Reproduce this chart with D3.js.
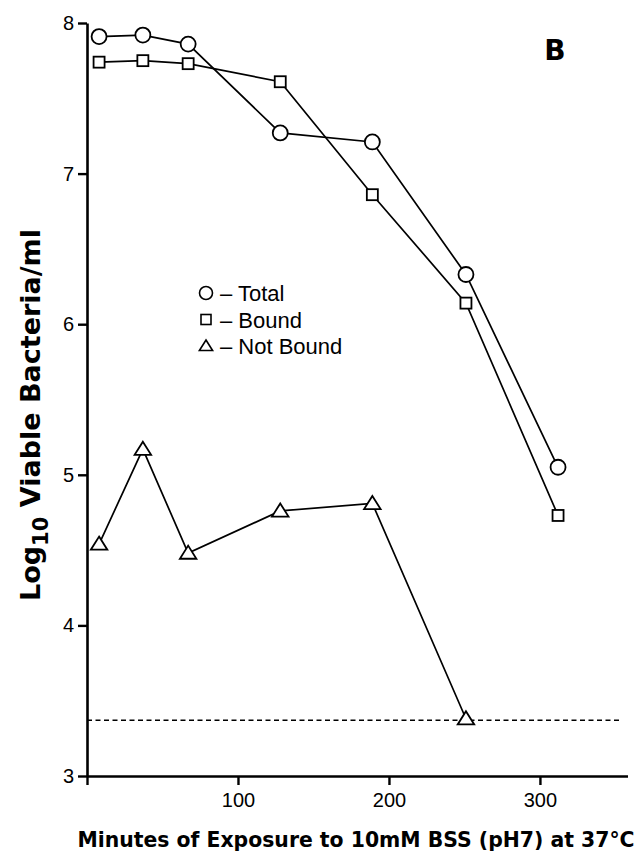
<!DOCTYPE html>
<html>
<head>
<meta charset="utf-8">
<script src="https://cdn.jsdelivr.net/npm/d3@7"></script>
<style>
  html, body { margin: 0; padding: 0; background: #fff; }
  svg { display: block; }
</style>
</head>
<body>
<svg id="chart" width="642" height="851"></svg>
<script>
// Sampling times (minutes of exposure)
const minutes = [8, 37, 67, 128, 189, 251, 312];
// Log10 viable bacteria per ml
const totalCounts = [7.91, 7.92, 7.86, 7.27, 7.21, 6.33, 5.05];
const boundCounts = [7.74, 7.75, 7.73, 7.61, 6.86, 6.14, 4.73];
const notBoundMinutes = [8, 37, 67, 128, 189, 251];
const notBoundCounts = [4.54, 5.17, 4.48, 4.76, 4.81, 3.38];
// Detection limit
const detectionLimit = 3.37;
const detectionSpan = [0, 353];
// Axis ticks
const xTicks = [0, 100, 200, 300];
const yTicks = [3, 4, 5, 6, 7, 8];
const legendLabels = ["Total", "Bound", "Not Bound"];

const svg = d3.select("#chart");
const x = d3.scaleLinear().domain([0, 358]).range([87, 627.5]);
const y = d3.scaleLinear().domain([3, 8]).range([776, 23]);

// Axes
const yAxis = d3.axisLeft(y).tickValues(yTicks).tickSize(9).tickSizeOuter(0).tickPadding(4)
  .tickFormat(d3.format("d"));
const xAxis = d3.axisBottom(x).tickValues(xTicks).tickSize(9).tickSizeOuter(0).tickPadding(8)
  .tickFormat(d => d === 0 ? "" : d);

const gy = svg.append("g").attr("transform", `translate(${x(0)},0)`).call(yAxis);
const gx = svg.append("g").attr("transform", `translate(0,${y(3)})`).call(xAxis);
[gx, gy].forEach(g => {
  g.select(".domain").attr("stroke", "#000").attr("stroke-width", 2.6);
  g.selectAll(".tick line").attr("stroke", "#000").attr("stroke-width", 2.4);
  g.selectAll(".tick text").attr("fill", "#000")
    .style("font-family", "'Liberation Sans', Arial, sans-serif").style("font-size", "20px");
});

// Detection limit line
svg.append("line")
  .attr("x1", x(detectionSpan[0])).attr("x2", x(detectionSpan[1]))
  .attr("y1", y(detectionLimit)).attr("y2", y(detectionLimit))
  .attr("stroke", "#000").attr("stroke-width", 1.5).attr("stroke-dasharray", "5,3.5");

const line = d3.line().x(d => x(d[0])).y(d => y(d[1]));
const totalPts = d3.zip(minutes, totalCounts);
const boundPts = d3.zip(minutes, boundCounts);
const notBoundPts = d3.zip(notBoundMinutes, notBoundCounts);

[totalPts, boundPts, notBoundPts].forEach(pts => {
  svg.append("path").datum(pts).attr("d", line)
    .attr("fill", "none").attr("stroke", "#000").attr("stroke-width", 1.7);
});

const tri = r => `M0,${-r}L${r * 1.1},${r * 0.75}L${-r * 1.1},${r * 0.75}Z`;

// Markers
svg.append("g").selectAll("circle").data(totalPts).join("circle")
  .attr("cx", d => x(d[0])).attr("cy", d => y(d[1])).attr("r", 7.5)
  .attr("fill", "#fff").attr("stroke", "#000").attr("stroke-width", 1.8);
svg.append("g").selectAll("rect").data(boundPts).join("rect")
  .attr("x", d => x(d[0]) - 5.5).attr("y", d => y(d[1]) - 5.5)
  .attr("width", 11).attr("height", 11)
  .attr("fill", "#fff").attr("stroke", "#000").attr("stroke-width", 1.8);
svg.append("g").selectAll("path").data(notBoundPts).join("path")
  .attr("transform", d => `translate(${x(d[0])},${y(d[1])})`)
  .attr("d", tri(7.5))
  .attr("fill", "#fff").attr("stroke", "#000").attr("stroke-width", 1.8);

// Legend
const legend = svg.append("g").attr("transform", "translate(206,293)");
const rowH = 26.5;
legend.append("circle").attr("cx", 0).attr("cy", 0).attr("r", 6.5)
  .attr("fill", "none").attr("stroke", "#000").attr("stroke-width", 1.6);
legend.append("rect").attr("x", -5).attr("y", rowH - 5).attr("width", 10).attr("height", 10)
  .attr("fill", "none").attr("stroke", "#000").attr("stroke-width", 1.6);
legend.append("path").attr("transform", `translate(0,${2 * rowH})`).attr("d", tri(6))
  .attr("fill", "none").attr("stroke", "#000").attr("stroke-width", 1.6);
legend.selectAll("text").data(legendLabels).join("text")
  .attr("x", 14).attr("y", (d, i) => i * rowH + 8)
  .style("font-family", "'Liberation Sans', Arial, sans-serif").style("font-size", "22px")
  .text(d => "\u2013 " + d);

// Panel letter
svg.append("text").attr("x", 555).attr("y", 60).attr("text-anchor", "middle")
  .style("font-family", "'DejaVu Sans', sans-serif").style("font-weight", "bold").style("font-size", "28px")
  .text("B");

// Axis titles
svg.append("text").attr("x", 356).attr("y", 847).attr("text-anchor", "middle")
  .style("font-family", "'DejaVu Sans', sans-serif").style("font-weight", "bold").style("font-size", "20.4px")
  .text("Minutes of Exposure to 10mM BSS (pH7) at 37°C");

const yt = svg.append("text").attr("transform", "translate(40,415) rotate(-90)").attr("text-anchor", "middle")
  .style("font-family", "'DejaVu Sans', sans-serif").style("font-weight", "bold").style("font-size", "27px");
yt.append("tspan").text("Log");
yt.append("tspan").attr("dy", 8).style("font-size", "21px").text("10");
yt.append("tspan").attr("dy", -8).text(" Viable Bacteria/ml");
</script>
</body>
</html>
